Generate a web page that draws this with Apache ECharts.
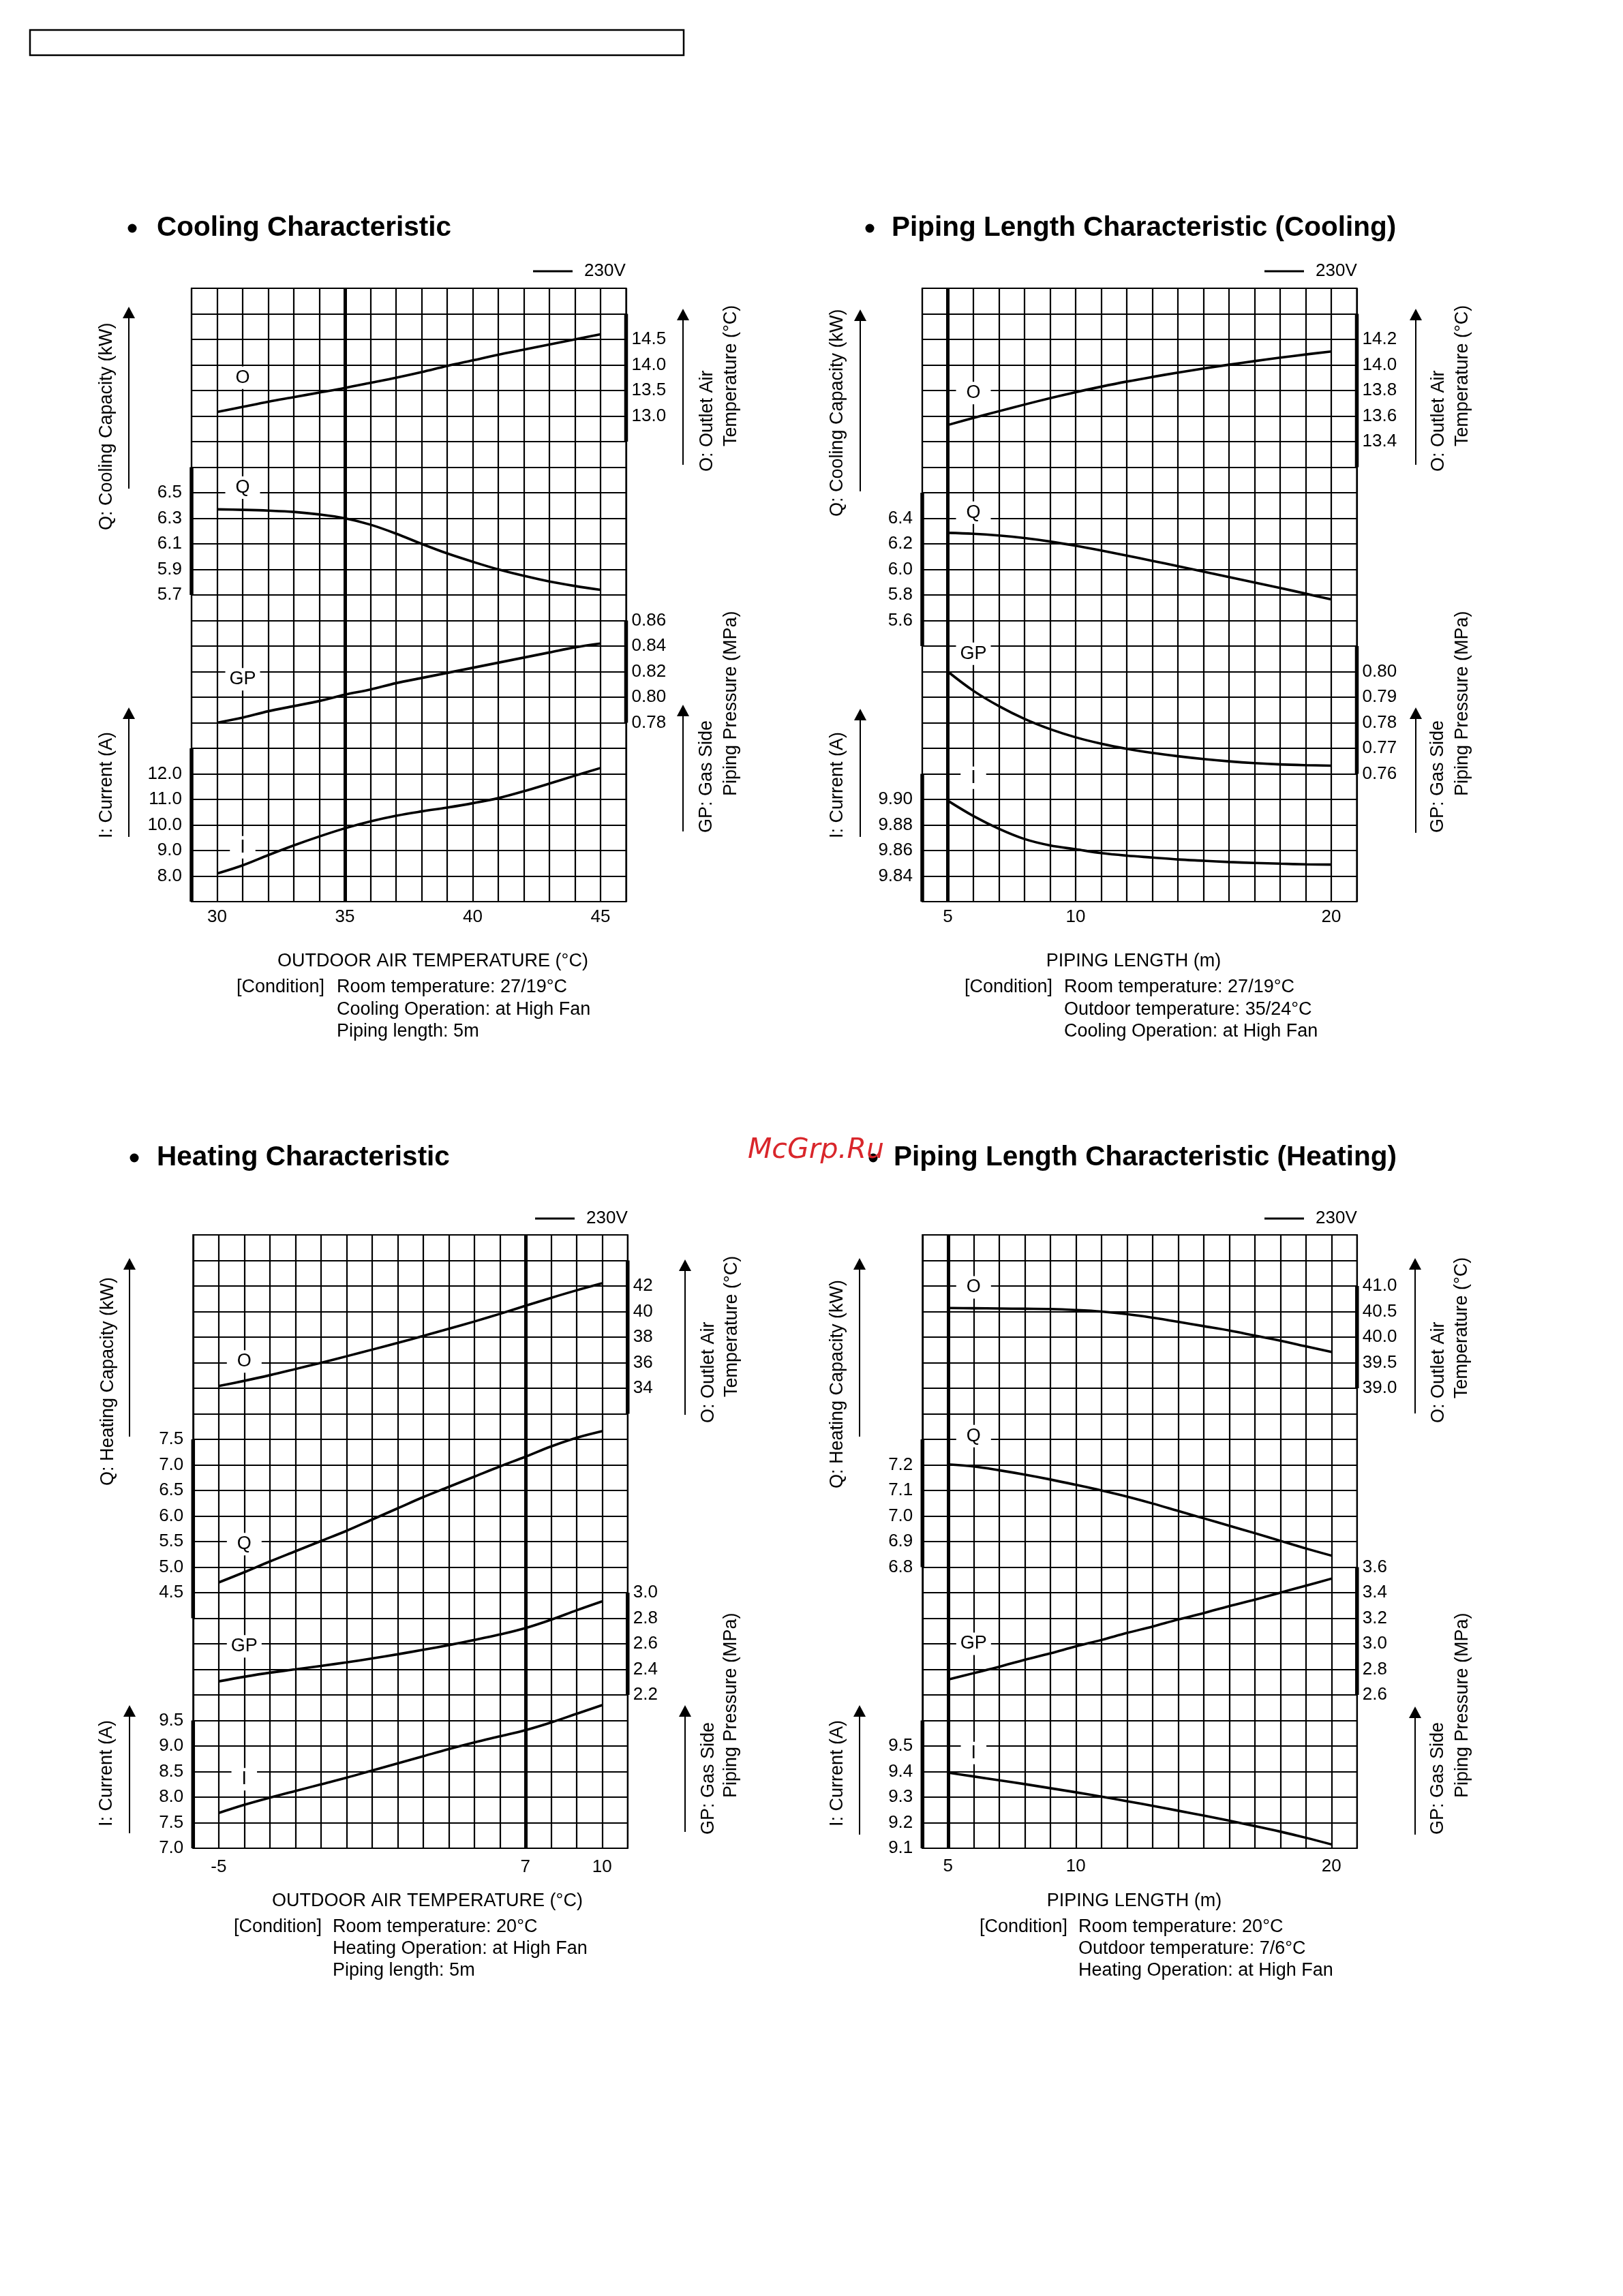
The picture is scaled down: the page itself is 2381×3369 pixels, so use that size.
<!DOCTYPE html>
<html><head><meta charset="utf-8">
<script src="https://cdn.jsdelivr.net/npm/echarts@6/dist/echarts.min.js"></script>
<style>html,body{margin:0;padding:0;background:#fff}#c{width:2381px;height:3369px}</style>
</head><body><div id="c"></div>
<script>
// ---------- DATA ----------
// Cooling Characteristic (x: outdoor air temperature °C)
const coolTemp = [30,31,32,33,34,35,36,37,38,39,40,41,42,43,44,45];
const coolO  = [13.08,13.18,13.28,13.37,13.46,13.55,13.65,13.75,13.86,13.98,14.09,14.20,14.30,14.40,14.50,14.60];
const coolQ  = [6.37,6.366,6.36,6.35,6.33,6.30,6.25,6.18,6.10,6.025,5.96,5.90,5.85,5.805,5.77,5.74];
const coolGP = [0.780,0.784,0.789,0.793,0.797,0.802,0.806,0.811,0.815,0.819,0.823,0.827,0.831,0.835,0.839,0.842];
const coolI  = [8.10,8.42,8.82,9.20,9.55,9.87,10.14,10.36,10.53,10.68,10.85,11.05,11.32,11.62,11.93,12.23];
const coolXTicks  = [30,35,40,45];
const coolOTicks  = ['13.0','13.5','14.0','14.5'];
const coolQTicks  = ['5.7','5.9','6.1','6.3','6.5'];
const coolGPTicks = ['0.78','0.80','0.82','0.84','0.86'];
const coolITicks  = ['8.0','9.0','10.0','11.0','12.0'];
const coolBars    = [[15.0,12.5],[6.7,5.7],[0.86,0.78],[13,7]];     // O, Q, GP, I axis brackets
const coolLabelY  = [13.75,6.54,0.814,9.13];

// Piping Length Characteristic (Cooling) (x: piping length m)
const pipeLen = [5,6,7,8,9,10,11,12,13,14,15,16,17,18,19,20];
const pcO  = [13.53,13.585,13.638,13.69,13.74,13.787,13.83,13.87,13.906,13.94,13.972,14.002,14.03,14.057,14.082,14.105];
const pcQ  = [6.286,6.279,6.265,6.245,6.218,6.185,6.148,6.108,6.067,6.025,5.983,5.940,5.897,5.855,5.810,5.765];
const pcGP = [0.800,0.7925,0.7865,0.7815,0.7775,0.7743,0.7718,0.7698,0.7682,0.7669,0.7658,0.7649,0.7642,0.7637,0.7634,0.7632];
const pcI  = [9.899,9.887,9.877,9.869,9.864,9.861,9.858,9.856,9.8545,9.853,9.852,9.851,9.8503,9.8497,9.8492,9.849];
const pipeXTicks = [5,10,20];
const pcOTicks  = ['13.4','13.6','13.8','14.0','14.2'];
const pcQTicks  = ['5.6','5.8','6.0','6.2','6.4'];
const pcGPTicks = ['0.76','0.77','0.78','0.79','0.80'];
const pcITicks  = ['9.84','9.86','9.88','9.90'];
const pcBars    = [[14.4,13.2],[6.6,5.4],[0.81,0.76],[9.92,9.82]];
const pcLabelY  = [13.78,6.444,0.807,9.917];

// Heating Characteristic (x: outdoor air temperature °C)
const heatTemp = [-5,-4,-3,-2,-1,0,1,2,3,4,5,6,7,8,9,10];
const htO  = [34.17,34.58,35.02,35.5,35.99,36.5,37.02,37.55,38.09,38.65,39.22,39.82,40.45,41.07,41.66,42.21];
const htQ  = [4.70,4.90,5.11,5.31,5.51,5.71,5.93,6.15,6.37,6.57,6.77,6.97,7.16,7.36,7.53,7.66];
const htGP = [2.306,2.342,2.374,2.40,2.427,2.455,2.485,2.518,2.553,2.59,2.63,2.673,2.723,2.788,2.862,2.932];
const htI  = [7.69,7.85,7.99,8.12,8.25,8.38,8.52,8.66,8.80,8.94,9.07,9.19,9.31,9.46,9.63,9.80];
const heatXTicks = [-5,7,10];
const htOTicks  = ['34','36','38','40','42'];
const htQTicks  = ['4.5','5.0','5.5','6.0','6.5','7.0','7.5'];
const htGPTicks = ['2.2','2.4','2.6','2.8','3.0'];
const htITicks  = ['7.0','7.5','8.0','8.5','9.0','9.5'];
const htBars    = [[44,32],[7.5,4.0],[3.0,2.2],[9.5,7.0]];
const htLabelY  = [36.1,5.45,2.58,8.35];

// Piping Length Characteristic (Heating)
const phO  = [40.57,40.565,40.56,40.555,40.55,40.53,40.50,40.45,40.38,40.30,40.215,40.13,40.03,39.93,39.82,39.71];
const phQ  = [7.202,7.194,7.179,7.162,7.143,7.122,7.100,7.076,7.049,7.020,6.991,6.962,6.933,6.903,6.873,6.845];
const phGP = [2.72,2.77,2.82,2.875,2.925,2.98,3.03,3.085,3.135,3.19,3.24,3.295,3.345,3.40,3.455,3.51];
const phI  = [9.396,9.381,9.366,9.351,9.335,9.319,9.302,9.284,9.266,9.247,9.228,9.208,9.187,9.165,9.141,9.115];
const phOTicks  = ['39.0','39.5','40.0','40.5','41.0'];
const phQTicks  = ['6.8','6.9','7.0','7.1','7.2'];
const phGPTicks = ['2.6','2.8','3.0','3.2','3.4','3.6'];
const phITicks  = ['9.1','9.2','9.3','9.4','9.5'];
const phBars    = [[41.0,39.0],[7.3,6.8],[3.6,2.6],[9.6,9.1]];
const phLabelY  = [40.975,7.313,3.0,9.473];

const seriesNames = ['O','Q','GP','I'];
const legendName = '230V';
const titles = ['Cooling Characteristic','Piping Length Characteristic (Cooling)','Heating Characteristic','Piping Length Characteristic (Heating)'];
const xNames = ['OUTDOOR AIR TEMPERATURE (\u00B0C)','PIPING LENGTH (m)','OUTDOOR AIR TEMPERATURE (\u00B0C)','PIPING LENGTH (m)'];
const conditions = [
  ['Room temperature: 27/19\u00B0C','Cooling Operation: at High Fan','Piping length: 5m'],
  ['Room temperature: 27/19\u00B0C','Outdoor temperature: 35/24\u00B0C','Cooling Operation: at High Fan'],
  ['Room temperature: 20\u00B0C','Heating Operation: at High Fan','Piping length: 5m'],
  ['Room temperature: 20\u00B0C','Outdoor temperature: 7/6\u00B0C','Heating Operation: at High Fan']
];
const qTitles = ['Q: Cooling Capacity (kW)','Q: Cooling Capacity (kW)','Q: Heating Capacity (kW)','Q: Heating Capacity (kW)'];

// ---------- CHART SPECS (scales) ----------
const specs = [
  {x:coolTemp, xMin:29, xMax:46, xTicks:coolXTicks, refX:35, labelX:31,
   q:[{side:'right',min:3.5,max:15.5,interval:0.5,dec:1,ticks:coolOTicks,data:coolO},
      {side:'left', min:3.3,max:8.1, interval:0.2,dec:1,ticks:coolQTicks,data:coolQ},
      {side:'right',min:0.64,max:1.12,interval:0.02,dec:2,ticks:coolGPTicks,data:coolGP},
      {side:'left', min:7,max:31,interval:1,dec:1,ticks:coolITicks,data:coolI}],
   bars:coolBars, labelY:coolLabelY},
  {x:pipeLen, xMin:4, xMax:21, xTicks:pipeXTicks, refX:5, labelX:6,
   q:[{side:'right',min:9.8,max:14.6,interval:0.2,dec:1,ticks:pcOTicks,data:pcO},
      {side:'left', min:3.4,max:8.2,interval:0.2,dec:1,ticks:pcQTicks,data:pcQ},
      {side:'right',min:0.71,max:0.95,interval:0.01,dec:2,ticks:pcGPTicks,data:pcGP},
      {side:'left', min:9.82,max:10.30,interval:0.02,dec:2,ticks:pcITicks,data:pcI}],
   bars:pcBars, labelY:pcLabelY},
  {x:heatTemp, xMin:-6, xMax:11, xTicks:heatXTicks, refX:7, labelX:-4,
   q:[{side:'right',min:-2,max:46,interval:2,dec:0,ticks:htOTicks,data:htO},
      {side:'left', min:-0.5,max:11.5,interval:0.5,dec:1,ticks:htQTicks,data:htQ},
      {side:'right',min:1.0,max:5.8,interval:0.2,dec:1,ticks:htGPTicks,data:htGP},
      {side:'left', min:7.0,max:19.0,interval:0.5,dec:1,ticks:htITicks,data:htI}],
   bars:htBars, labelY:htLabelY},
  {x:pipeLen, xMin:4, xMax:21, xTicks:pipeXTicks, refX:5, labelX:6,
   q:[{side:'right',min:30,max:42,interval:0.5,dec:1,ticks:phOTicks,data:phO},
      {side:'left', min:5.7,max:8.1,interval:0.1,dec:1,ticks:phQTicks,data:phQ},
      {side:'right',min:1.4,max:6.2,interval:0.2,dec:1,ticks:phGPTicks,data:phGP},
      {side:'left', min:9.1,max:11.5,interval:0.1,dec:1,ticks:phITicks,data:phI}],
   bars:phBars, labelY:phLabelY}
];

// ---------- LAYOUT ----------
const PW = 637.5, PH = 900;
const L = [
 {left:281, top:423, xm:10, title:[194,230,335], legend:[782,400], name:[635,1411], cond:[347,494,[1449,1482,1514]],
  vt:{q:[157,778], i:[157,1230], o1:[1038,692], o2:[1073,655], g1:[1037,1222], g2:[1073,1168]},
  arr:{lx:189, lt:[717,450], lb:[1228,1038], rx:1002, rt:[682,453], rb:[1220,1034]}},
 {left:1353, top:423, xm:10, title:[1276,1308,335], legend:[1855,400], name:[1663,1411], cond:[1415,1561,[1449,1482,1514]],
  vt:{q:[1229,758], i:[1229,1230], o1:[2111,692], o2:[2146,655], g1:[2110,1222], g2:[2146,1168]},
  arr:{lx:1262, lt:[721,454], lb:[1228,1040], rx:2077, rt:[682,453], rb:[1222,1038]}},
 {left:283.3, top:1812, xm:15, title:[197,230,1699], legend:[785,1790], name:[627,2790], cond:[343,488,[2828,2860,2892]],
  vt:{q:[158.6,2180], i:[157,2680], o1:[1040,2088], o2:[1073.4,2050], g1:[1040,2692], g2:[1073,2638]},
  arr:{lx:190, lt:[2108,1846], lb:[2690,2502], rx:1005, rt:[2076,1848], rb:[2688,2502]}},
 {left:1353.3, top:1812, xm:14, title:[1281,1311,1699], legend:[1855,1790], name:[1664,2790], cond:[1437,1582,[2828,2860,2892]],
  vt:{q:[1229,2184], i:[1229,2680], o1:[2111,2088], o2:[2145,2052], g1:[2110,2692], g2:[2146,2638]},
  arr:{lx:1261, lt:[2108,1846], lb:[2692,2502], rx:2076, rt:[2074,1846], rb:[2692,2504]}}
];

const FONT = '"Liberation Sans", Arial, Helvetica, sans-serif';
const grids=[], xAxes=[], yAxes=[], series=[], legends=[], gfx=[];

function txt(x, y, text, opt) {
  opt = opt || {};
  return {type:'text', x:x, y:y, rotation: opt.rot || 0, z: 100,
    style:{text:text, fontSize: opt.size || 27, fontWeight: opt.weight || 'normal', fontFamily: opt.family || FONT,
      fontStyle: opt.style || 'normal', fill: opt.fill || '#000',
      align: opt.align || 'left', textAlign: opt.align || 'left', verticalAlign:'middle', textVerticalAlign:'middle'}};
}
function arrow(x, y0, y1) {
  gfx.push({type:'line', z:100, shape:{x1:x, y1:y0, x2:x, y2:y1+12}, style:{stroke:'#000', lineWidth:2}});
  gfx.push({type:'polygon', z:100, shape:{points:[[x,y1],[x-9,y1+17],[x+9,y1+17]]}, style:{fill:'#000'}});
}

specs.forEach((s, g) => {
  const lay = L[g];
  grids.push({left:lay.left, top:lay.top, width:PW, height:PH, show:true, borderColor:'#000', borderWidth:2.2,
    backgroundColor:'#fff', containLabel:false, outerBoundsMode:'none'});
  xAxes.push({type:'value', gridIndex:g, min:s.xMin, max:s.xMax, interval:1,
    axisLine:{show:false}, axisTick:{show:false},
    splitLine:{show:true, lineStyle:{color:'#000', width:2.2}},
    axisLabel:{margin:lay.xm, fontSize:26, fontFamily:FONT, color:'#000',
      formatter:(v)=>{ const r=Math.round(v); return (Math.abs(v-r)<1e-6 && s.xTicks.includes(r)) ? String(r) : ''; }}});
  s.q.forEach((q, j) => {
    const yi = yAxes.length;
    yAxes.push({type:'value', gridIndex:g, position:q.side, offset:0, min:q.min, max:q.max, interval:q.interval,
      axisLine:{show:false}, axisTick:{show:false},
      splitLine:{show: j===0, lineStyle:{color:'#000', width:2.2}},
      axisLabel:{margin: q.side==='left'?14:8, fontSize:26, fontFamily:FONT, color:'#000', showMinLabel:true, showMaxLabel:true,
        formatter:(v)=>{ const t=(+v).toFixed(q.dec); return q.ticks.includes(t) ? t : ''; }}});
    const line = {type:'line', name:legendName, xAxisIndex:g, yAxisIndex:yi,
      data: s.x.map((xv,i)=>[xv, q.data[i]]), smooth:0.35, showSymbol:false, symbol:'none',
      lineStyle:{color:'#000', width:3.6}, itemStyle:{color:'#000'}, z:5, silent:true};
    if (j===0) {
      line.markLine = {silent:true, symbol:['none','none'], label:{show:false},
        lineStyle:{color:'#000', width:5, type:'solid', opacity:1}, data:[{xAxis:s.refX}]};
    }
    series.push(line);
    const edge = q.side==='right' ? s.xMax : s.xMin;
    series.push({type:'line', name:'bracket', xAxisIndex:g, yAxisIndex:yi, clip:false,
      data:[[edge, s.bars[j][0]],[edge, s.bars[j][1]]], showSymbol:false, symbol:'none',
      lineStyle:{color:'#000', width:5.5}, itemStyle:{color:'#000'}, z:6, silent:true});
    const nm = seriesNames[j];
    series.push({type:'scatter', name:'lbl', xAxisIndex:g, yAxisIndex:yi, symbolSize:1,
      itemStyle:{color:'#fff', opacity:1},
      data:[[s.labelX, s.labelY[j]]], z:4, silent:true,
      label:{show:true, position:'inside', formatter:nm, fontSize:27, fontFamily:FONT, color:'#000', opacity:1,
        backgroundColor:'#fff', padding: nm.length>1 ? [3,6] : [3,15]}});
  });
  legends.push({data:[legendName], left:lay.legend[0], top:lay.legend[1]-15, padding:0, itemGap:0,
    icon:'rect', itemWidth:58, itemHeight:3, selectedMode:false,
    textStyle:{fontSize:26, fontFamily:FONT, color:'#000', padding:[0,0,0,12]}});

  // title with bullet
  gfx.push({type:'circle', z:100, shape:{cx:lay.title[0], cy:lay.title[2], r:6.5}, style:{fill:'#000'}});
  gfx.push(txt(lay.title[1], lay.title[2], titles[g], {size:40.5, weight:'bold'}));
  // x axis name and conditions
  gfx.push(txt(lay.name[0], lay.name[1], xNames[g], {align:'center'}));
  gfx.push(txt(lay.cond[0], lay.cond[2][0], '[Condition]'));
  conditions[g].forEach((c, k) => gfx.push(txt(lay.cond[1], lay.cond[2][k], c)));
  // rotated axis titles
  const R = Math.PI/2, v = lay.vt;
  gfx.push(txt(v.q[0], v.q[1], qTitles[g], {rot:R}));
  gfx.push(txt(v.i[0], v.i[1], 'I: Current (A)', {rot:R}));
  gfx.push(txt(v.o1[0], v.o1[1], 'O: Outlet Air', {rot:R}));
  gfx.push(txt(v.o2[0], v.o2[1], 'Temperature (\u00B0C)', {rot:R}));
  gfx.push(txt(v.g1[0], v.g1[1], 'GP: Gas Side', {rot:R}));
  gfx.push(txt(v.g2[0], v.g2[1], 'Piping Pressure (MPa)', {rot:R}));
  const a = lay.arr;
  arrow(a.lx, a.lt[0], a.lt[1]); arrow(a.lx, a.lb[0], a.lb[1]);
  arrow(a.rx, a.rt[0], a.rt[1]); arrow(a.rx, a.rb[0], a.rb[1]);
});

// page decorations
gfx.push({type:'rect', z:100, shape:{x:44, y:44, width:959, height:37}, style:{fill:'none', stroke:'#000', lineWidth:2.5}});
gfx.push(txt(1097, 1688, 'McGrp.Ru', {size:41, family:'"DejaVu Sans", sans-serif', style:'italic', fill:'#d9262b'}));

const chart = echarts.init(document.getElementById('c'), null, {renderer:'canvas', width:2381, height:3369});
chart.setOption({
  animation:false,
  backgroundColor:'#fff',
  grid:grids, xAxis:xAxes, yAxis:yAxes, series:series, legend:legends,
  graphic:{elements:gfx}
});
</script>
</body></html>
